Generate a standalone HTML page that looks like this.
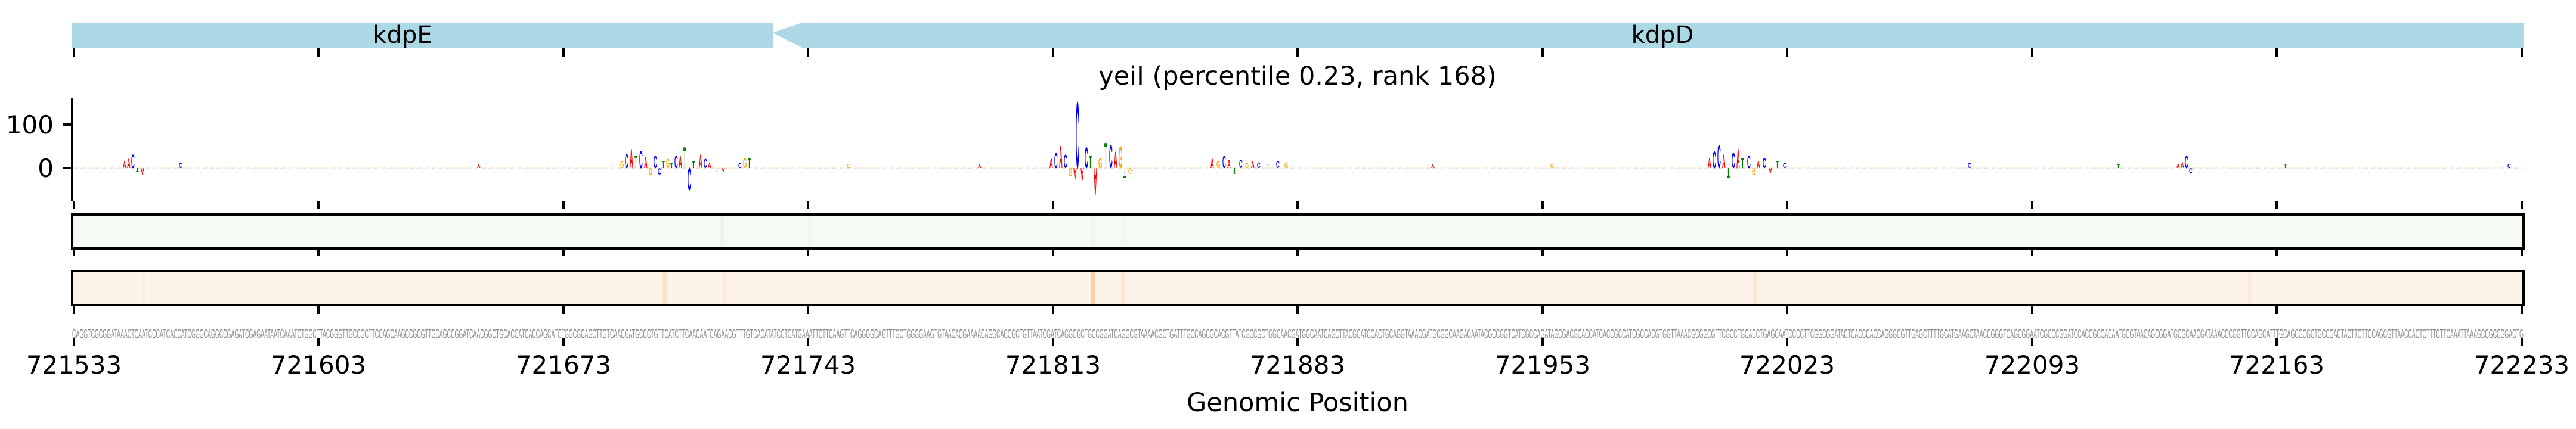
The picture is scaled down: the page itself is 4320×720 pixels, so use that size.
<!DOCTYPE html>
<html><head><meta charset="utf-8"><style>
html,body{margin:0;padding:0;background:#fff;}
svg{display:block;}
</style></head><body>
<svg width="4320" height="720" viewBox="0 0 4320 720" xmlns="http://www.w3.org/2000/svg" font-family="'DejaVu Sans','Liberation Sans',sans-serif">
<rect x="121" y="38" width="1175" height="42" fill="#add8e6"/>
<polygon points="1296,55 1345,38 4232,38 4232,80 1345,80" fill="#add8e6"/>
<text x="675" y="72" font-size="40" text-anchor="middle" fill="#000">kdpE</text>
<text x="2788" y="72" font-size="40" text-anchor="middle" fill="#000">kdpD</text>
<g stroke="#000" stroke-width="4">
<line x1="124" y1="80" x2="124" y2="95"/><line x1="534" y1="80" x2="534" y2="95"/><line x1="945" y1="80" x2="945" y2="95"/><line x1="1355" y1="80" x2="1355" y2="95"/><line x1="1766" y1="80" x2="1766" y2="95"/><line x1="2176" y1="80" x2="2176" y2="95"/><line x1="2587" y1="80" x2="2587" y2="95"/><line x1="2997" y1="80" x2="2997" y2="95"/><line x1="3408" y1="80" x2="3408" y2="95"/><line x1="3818" y1="80" x2="3818" y2="95"/><line x1="4229" y1="80" x2="4229" y2="95"/>
</g>
<text x="2176" y="142" font-size="43" text-anchor="middle" fill="#000">yeiI (percentile 0.23, rank 168)</text>
<line x1="121" y1="165" x2="121" y2="337" stroke="#000" stroke-width="4"/>
<line x1="106" y1="209" x2="121" y2="209" stroke="#000" stroke-width="4"/>
<line x1="106" y1="282" x2="121" y2="282" stroke="#000" stroke-width="4"/>
<text x="90" y="224" font-size="42" text-anchor="end">100</text>
<text x="90" y="297" font-size="42" text-anchor="end">0</text>
<g stroke="#000" stroke-width="4">
<line x1="124" y1="337" x2="124" y2="350"/><line x1="534" y1="337" x2="534" y2="350"/><line x1="945" y1="337" x2="945" y2="350"/><line x1="1355" y1="337" x2="1355" y2="350"/><line x1="1766" y1="337" x2="1766" y2="350"/><line x1="2176" y1="337" x2="2176" y2="350"/><line x1="2587" y1="337" x2="2587" y2="350"/><line x1="2997" y1="337" x2="2997" y2="350"/><line x1="3408" y1="337" x2="3408" y2="350"/><line x1="3818" y1="337" x2="3818" y2="350"/><line x1="4229" y1="337" x2="4229" y2="350"/>
</g>
<line x1="124" y1="282" x2="4229" y2="282" stroke="#f3c98a" stroke-width="2" stroke-dasharray="8,4" opacity="0.35"/>
<line x1="124" y1="283" x2="4229" y2="283" stroke="#b0b0ff" stroke-width="1" stroke-dasharray="3,9" opacity="0.5"/>
<g font-family="'Liberation Sans',sans-serif" font-weight="bold" font-size="10">
<text transform="translate(206,282) scale(0.8,1.6)" fill="#ff0000">A</text>
<text transform="translate(213,282) scale(0.8,2.2)" fill="#ff0000">A</text>
<text transform="translate(220,282) scale(0.8,3.2)" fill="#0000ff">C</text>
<text transform="translate(228,282) scale(0.8,-0.8)" fill="#008000">T</text>
<text transform="translate(236,282) scale(0.8,-1.6)" fill="#ff0000">A</text>
<text transform="translate(300,282) scale(0.8,1.2)" fill="#0000ff">C</text>
<text transform="translate(800,282) scale(0.8,0.8)" fill="#ff0000">A</text>
<text transform="translate(1040,282) scale(0.8,1.8)" fill="#ffa500">G</text>
<text transform="translate(1048,282) scale(0.8,3.4)" fill="#0000ff">C</text>
<text transform="translate(1056,282) scale(0.8,4.6)" fill="#ff0000">A</text>
<text transform="translate(1064,282) scale(0.8,3.0)" fill="#008000">T</text>
<text transform="translate(1072,282) scale(0.8,4.2)" fill="#0000ff">C</text>
<text transform="translate(1080,282) scale(0.8,2.6)" fill="#ff0000">A</text>
<text transform="translate(1088,282) scale(0.8,-1.8)" fill="#ffa500">G</text>
<text transform="translate(1096,282) scale(0.8,3.0)" fill="#0000ff">C</text>
<text transform="translate(1103,282) scale(0.8,-1.6)" fill="#0000ff">C</text>
<text transform="translate(1110,282) scale(0.8,1.8)" fill="#008000">T</text>
<text transform="translate(1117,282) scale(0.8,2.2)" fill="#ffa500">G</text>
<text transform="translate(1124,282) scale(0.8,1.2)" fill="#008000">T</text>
<text transform="translate(1131,282) scale(0.8,3.0)" fill="#0000ff">C</text>
<text transform="translate(1138,282) scale(0.8,3.0)" fill="#ff0000">A</text>
<text transform="translate(1146,282) scale(0.8,5.0)" fill="#008000">T</text>
<text transform="translate(1153,282) scale(0.8,-5.4)" fill="#0000ff">C</text>
<text transform="translate(1161,282) scale(0.8,1.6)" fill="#008000">T</text>
<text transform="translate(1172,282) scale(0.8,3.2)" fill="#ff0000">A</text>
<text transform="translate(1180,282) scale(0.8,2.2)" fill="#0000ff">C</text>
<text transform="translate(1187,282) scale(0.8,1.2)" fill="#ff0000">A</text>
<text transform="translate(1200,282) scale(0.8,-1.0)" fill="#008000">T</text>
<text transform="translate(1210,282) scale(0.8,-0.8)" fill="#ff0000">A</text>
<text transform="translate(1238,282) scale(0.8,1.2)" fill="#0000ff">C</text>
<text transform="translate(1246,282) scale(0.8,2.4)" fill="#ffa500">G</text>
<text transform="translate(1254,282) scale(0.8,2.4)" fill="#008000">T</text>
<text transform="translate(1420,282) scale(0.8,1.0)" fill="#ffa500">G</text>
<text transform="translate(1640,282) scale(0.8,0.8)" fill="#ff0000">A</text>
<text transform="translate(1760,282) scale(0.8,2.4)" fill="#ff0000">A</text>
<text transform="translate(1768,282) scale(0.8,3.6)" fill="#0000ff">C</text>
<text transform="translate(1776,282) scale(0.8,5.4)" fill="#ff0000">A</text>
<text transform="translate(1784,282) scale(0.8,3.2)" fill="#0000ff">C</text>
<text transform="translate(1792,282) scale(0.8,-2.0)" fill="#ffa500">G</text>
<text transform="translate(1800,282) scale(0.8,-2.6)" fill="#ff0000">A</text>
<text transform="translate(1804,282) scale(0.8,16.0)" fill="#0000ff">C</text>
<text transform="translate(1812,282) scale(0.8,-3.0)" fill="#ff0000">A</text>
<text transform="translate(1819,282) scale(0.8,5.0)" fill="#0000ff">C</text>
<text transform="translate(1826,282) scale(0.8,3.0)" fill="#008000">T</text>
<text transform="translate(1834,282) scale(0.8,-6.5)" fill="#ff0000">A</text>
<text transform="translate(1842,282) scale(0.8,2.4)" fill="#ffa500">G</text>
<text transform="translate(1852,282) scale(0.8,6.0)" fill="#008000">T</text>
<text transform="translate(1860,282) scale(0.8,5.6)" fill="#0000ff">C</text>
<text transform="translate(1868,282) scale(0.8,4.0)" fill="#ff0000">A</text>
<text transform="translate(1876,282) scale(0.8,5.2)" fill="#ffa500">G</text>
<text transform="translate(1884,282) scale(0.8,-2.4)" fill="#008000">T</text>
<text transform="translate(1892,282) scale(0.8,-1.4)" fill="#ffa500">G</text>
<text transform="translate(2030,282) scale(0.8,2.2)" fill="#ff0000">A</text>
<text transform="translate(2040,282) scale(0.8,1.8)" fill="#ffa500">G</text>
<text transform="translate(2050,282) scale(0.8,3.0)" fill="#0000ff">C</text>
<text transform="translate(2058,282) scale(0.8,2.0)" fill="#ff0000">A</text>
<text transform="translate(2068,282) scale(0.8,-1.4)" fill="#008000">T</text>
<text transform="translate(2078,282) scale(0.8,2.0)" fill="#0000ff">C</text>
<text transform="translate(2088,282) scale(0.8,1.2)" fill="#ffa500">G</text>
<text transform="translate(2098,282) scale(0.8,1.6)" fill="#ff0000">A</text>
<text transform="translate(2108,282) scale(0.8,1.4)" fill="#0000ff">C</text>
<text transform="translate(2124,282) scale(0.8,1.0)" fill="#008000">T</text>
<text transform="translate(2140,282) scale(0.8,1.8)" fill="#0000ff">C</text>
<text transform="translate(2154,282) scale(0.8,1.4)" fill="#ffa500">G</text>
<text transform="translate(2400,282) scale(0.8,0.9)" fill="#ff0000">A</text>
<text transform="translate(2600,282) scale(0.8,0.9)" fill="#ffa500">G</text>
<text transform="translate(2864,282) scale(0.8,2.4)" fill="#ff0000">A</text>
<text transform="translate(2872,282) scale(0.8,4.0)" fill="#0000ff">C</text>
<text transform="translate(2880,282) scale(0.8,5.6)" fill="#0000ff">C</text>
<text transform="translate(2888,282) scale(0.8,3.2)" fill="#ff0000">A</text>
<text transform="translate(2896,282) scale(0.8,-2.4)" fill="#008000">T</text>
<text transform="translate(2904,282) scale(0.8,3.6)" fill="#0000ff">C</text>
<text transform="translate(2912,282) scale(0.8,4.6)" fill="#ff0000">A</text>
<text transform="translate(2920,282) scale(0.8,2.4)" fill="#008000">T</text>
<text transform="translate(2930,282) scale(0.8,3.0)" fill="#0000ff">C</text>
<text transform="translate(2938,282) scale(0.8,-1.8)" fill="#ffa500">G</text>
<text transform="translate(2946,282) scale(0.8,1.8)" fill="#ff0000">A</text>
<text transform="translate(2956,282) scale(0.8,2.4)" fill="#0000ff">C</text>
<text transform="translate(2966,282) scale(0.8,-1.2)" fill="#ff0000">A</text>
<text transform="translate(2978,282) scale(0.8,1.8)" fill="#008000">T</text>
<text transform="translate(2990,282) scale(0.8,1.2)" fill="#0000ff">C</text>
<text transform="translate(3300,282) scale(0.8,1.2)" fill="#0000ff">C</text>
<text transform="translate(3550,282) scale(0.8,0.8)" fill="#008000">T</text>
<text transform="translate(3650,282) scale(0.8,1.0)" fill="#ff0000">A</text>
<text transform="translate(3657,282) scale(0.8,1.4)" fill="#ff0000">A</text>
<text transform="translate(3664,282) scale(0.8,3.0)" fill="#0000ff">C</text>
<text transform="translate(3671,282) scale(0.8,-1.2)" fill="#0000ff">C</text>
<text transform="translate(3830,282) scale(0.8,0.9)" fill="#008000">T</text>
<text transform="translate(4205,282) scale(0.8,1.0)" fill="#0000ff">C</text>
</g>
<rect x="121" y="360" width="4111" height="57" fill="#f5faf2"/>
<rect x="1208" y="360" width="6" height="57" fill="#edf6ea"/>
<rect x="1355" y="360" width="6" height="57" fill="#f0f7ed"/>
<rect x="1830" y="360" width="6" height="57" fill="#eff7ec"/>
<rect x="1880" y="360" width="6" height="57" fill="#f1f8ee"/>
<rect x="121" y="360" width="4111" height="57" fill="none" stroke="#000" stroke-width="4"/>
<g stroke="#000" stroke-width="4">
<line x1="124" y1="417" x2="124" y2="430"/><line x1="534" y1="417" x2="534" y2="430"/><line x1="945" y1="417" x2="945" y2="430"/><line x1="1355" y1="417" x2="1355" y2="430"/><line x1="1766" y1="417" x2="1766" y2="430"/><line x1="2176" y1="417" x2="2176" y2="430"/><line x1="2587" y1="417" x2="2587" y2="430"/><line x1="2997" y1="417" x2="2997" y2="430"/><line x1="3408" y1="417" x2="3408" y2="430"/><line x1="3818" y1="417" x2="3818" y2="430"/><line x1="4229" y1="417" x2="4229" y2="430"/>
</g>
<rect x="121" y="455" width="4111" height="57" fill="#fef3e9"/>
<rect x="238" y="455" width="6" height="57" fill="#fdeee0"/>
<rect x="1112" y="455" width="6" height="57" fill="#fde1c6"/>
<rect x="1212" y="455" width="6" height="57" fill="#fdeadb"/>
<rect x="1830" y="455" width="7" height="57" fill="#fbcf9f"/>
<rect x="1880" y="455" width="6" height="57" fill="#fde7d3"/>
<rect x="2940" y="455" width="6" height="57" fill="#fde8d6"/>
<rect x="3770" y="455" width="6" height="57" fill="#fde9d8"/>
<rect x="121" y="455" width="4111" height="57" fill="none" stroke="#000" stroke-width="4"/>
<g stroke="#000" stroke-width="4">
<line x1="124" y1="512" x2="124" y2="527"/><line x1="534" y1="512" x2="534" y2="527"/><line x1="945" y1="512" x2="945" y2="527"/><line x1="1355" y1="512" x2="1355" y2="527"/><line x1="1766" y1="512" x2="1766" y2="527"/><line x1="2176" y1="512" x2="2176" y2="527"/><line x1="2587" y1="512" x2="2587" y2="527"/><line x1="2997" y1="512" x2="2997" y2="527"/><line x1="3408" y1="512" x2="3408" y2="527"/><line x1="3818" y1="512" x2="3818" y2="527"/><line x1="4229" y1="512" x2="4229" y2="527"/>
</g>
<text x="121" y="568" font-family="'Liberation Sans',sans-serif" font-size="22" fill="#8a8a8a" textLength="4111" lengthAdjust="spacingAndGlyphs">CAGGTCGCGGATAAACTCAATCCCATCACCATCGGGCAGGCCGAGATCGAGAATAATCAAATCTGGCTTACGGGTTGCCGCTTCCAGCAAGCCGCGTTGCAGCCGGATCAACGGCTGCACCATCACCAGCATCTGGCGCAGCTTGTCAACGATGCCCTGTTCATCTTCAACAATCAGAACGTTTGTCACATATCCTCATGAAATTCTTCAAGTTCAGGGGCAGTTTGCTGGGGAAGTGTAACACGAAAACAGGCACCGCTGTTAATCGATCAGGCGCTGCCGGATCAGGCGTAAAACGCTGATTTGCCAGCGCACGTTATCGCCGCTGGCAACGATGGCAATCAGCTTACGCATCCACTGCAGGTAAACGATGCGGCAAGACAATACGCCGGTCATCGCCAGATAGCGACGCACCATCACCGCCATCGCCACGTGGTTAAACGCGGCGTTCGCCTGCACCTGAGCAATCCCCTTCGGCGGATACTCACCCACCAGGGCGTTGAGCTTTTGCATGAAGCTAACCGGGTCAGCGGAATCGCCCGGATCCACCGCCACAATGCGTAACAGCGGATGCGCAACGATAAACCCGGTTCCAGCATTTGCAGCGCGCTGCCGACTACTTCTTCCAGCGTTAACCACTCTTTCTTCAAATTAAAGCCGCCGGACTG</text>
<g stroke="#000" stroke-width="4">
<line x1="124" y1="567" x2="124" y2="580"/><line x1="534" y1="567" x2="534" y2="580"/><line x1="945" y1="567" x2="945" y2="580"/><line x1="1355" y1="567" x2="1355" y2="580"/><line x1="1766" y1="567" x2="1766" y2="580"/><line x1="2176" y1="567" x2="2176" y2="580"/><line x1="2587" y1="567" x2="2587" y2="580"/><line x1="2997" y1="567" x2="2997" y2="580"/><line x1="3408" y1="567" x2="3408" y2="580"/><line x1="3818" y1="567" x2="3818" y2="580"/><line x1="4229" y1="567" x2="4229" y2="580"/>
</g>
<g font-size="42" text-anchor="middle" fill="#000">
<text x="124" y="627">721533</text><text x="534" y="627">721603</text><text x="945" y="627">721673</text><text x="1355" y="627">721743</text><text x="1766" y="627">721813</text><text x="2176" y="627">721883</text><text x="2587" y="627">721953</text><text x="2997" y="627">722023</text><text x="3408" y="627">722093</text><text x="3818" y="627">722163</text><text x="4229" y="627">722233</text>
</g>
<text x="2176" y="690" font-size="43" text-anchor="middle" fill="#000">Genomic Position</text>
</svg>
</body></html>
